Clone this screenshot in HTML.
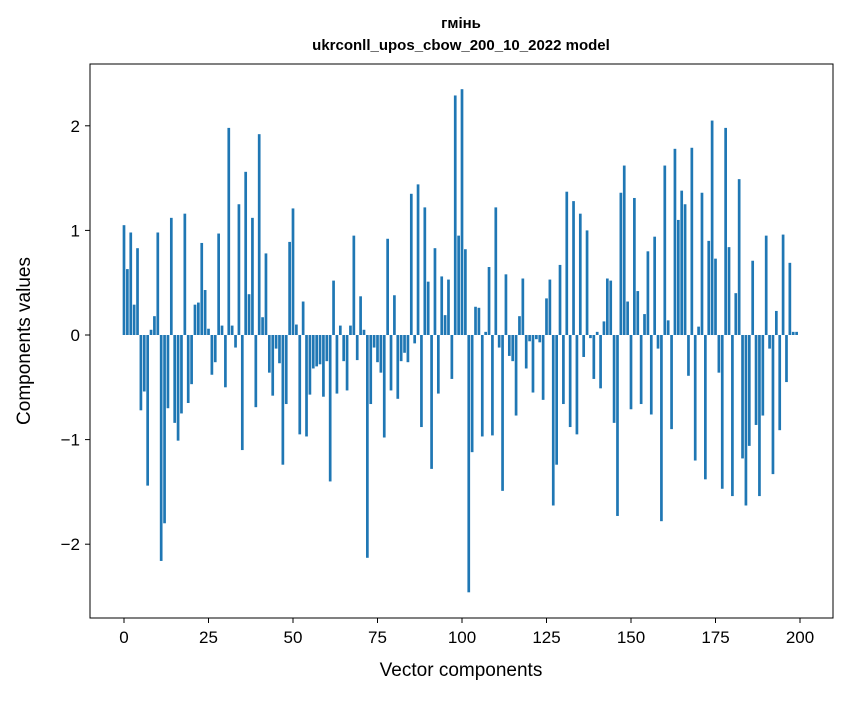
<!DOCTYPE html>
<html><head><meta charset="utf-8"><style>
body{margin:0;background:#fff;}
svg text{font-family:"Liberation Sans","DejaVu Sans",sans-serif;fill:#000;}
</style></head><body>
<svg id="chart" width="847" height="696" xmlns="http://www.w3.org/2000/svg">
<rect width="847" height="696" fill="#fff"/>
<text x="461" y="28" text-anchor="middle" font-size="15" font-weight="bold">гмінь</text>
<text x="461" y="50" text-anchor="middle" font-size="15" font-weight="bold">ukrconll_upos_cbow_200_10_2022 model</text>
<g id="bars"></g>
<rect x="90" y="64" width="743" height="554" fill="none" stroke="#000" stroke-width="1"/>
<g id="xticks"></g>
<g id="yticks"></g>
<text x="461" y="676" text-anchor="middle" font-size="19">Vector components</text>
<text transform="translate(30,341) rotate(-90)" text-anchor="middle" font-size="19">Components values</text>
</svg>
<script>
const values=[1.05,0.63,0.98,0.29,0.83,-0.72,-0.54,-1.44,0.05,0.18,0.98,-2.16,-1.8,-0.7,1.12,-0.84,-1.01,-0.75,1.16,-0.65,
-0.47,0.29,0.31,0.88,0.43,0.06,-0.38,-0.26,0.97,0.09,-0.5,1.98,0.09,-0.12,1.25,-1.1,1.56,0.39,1.12,-0.69,
1.92,0.17,0.78,-0.36,-0.58,-0.13,-0.27,-1.24,-0.66,0.89,1.21,0.1,-0.95,0.32,-0.97,-0.57,-0.32,-0.3,-0.28,-0.59,
-0.25,-1.4,0.52,-0.56,0.09,-0.25,-0.53,0.09,0.95,-0.24,0.37,0.05,-2.13,-0.66,-0.12,-0.26,-0.36,-0.98,0.92,-0.53,
0.38,-0.61,-0.25,-0.17,-0.26,1.35,-0.08,1.44,-0.88,1.22,0.51,-1.28,0.83,-0.56,0.56,0.19,0.53,-0.42,2.29,0.95,
2.35,0.82,-2.46,-1.12,0.27,0.26,-0.97,0.03,0.65,-0.96,1.22,-0.12,-1.49,0.58,-0.2,-0.25,-0.77,0.18,0.54,-0.32,
-0.06,-0.55,-0.04,-0.07,-0.62,0.35,0.53,-1.63,-1.24,0.67,-0.66,1.37,-0.88,1.28,-0.95,1.16,-0.21,1.0,-0.03,-0.42,
0.03,-0.51,0.13,0.54,0.52,-0.84,-1.73,1.36,1.62,0.32,-0.71,1.31,0.42,-0.66,0.2,0.8,-0.76,0.94,-0.13,-1.78,
1.62,0.14,-0.9,1.78,1.1,1.38,1.25,-0.39,1.79,-1.2,0.08,1.36,-1.38,0.9,2.05,0.73,-0.36,-1.47,1.98,0.84,
-1.54,0.4,1.49,-1.18,-1.63,-1.06,0.71,-0.86,-1.54,-0.77,0.95,-0.13,-1.33,0.23,-0.91,0.96,-0.45,0.69,0.03,0.03];
const xTickVals=[0,25,50,75,100,125,150,175,200];
const yTickVals=[-2,-1,0,1,2];
const yTickLabels=["\u22122","\u22121","0","1","2"];
const NS="http://www.w3.org/2000/svg";
const xs=v=>124+v*3.38;
const ys=v=>335-v*104.6;
const bars=document.getElementById('bars');
values.forEach((v,i)=>{
  const r=document.createElementNS(NS,'rect');
  
  
  const y0=ys(0),y1=ys(v);
  r.setAttribute('x',xs(i)-1.35);r.setAttribute('width',2.7);
  r.setAttribute('y',Math.min(y0,y1));r.setAttribute('height',Math.abs(y1-y0));
  r.setAttribute('fill','#1f77b4');
  bars.appendChild(r);
});
const xt=document.getElementById('xticks');
xTickVals.forEach(v=>{
  const l=document.createElementNS(NS,'line');
  
  
  l.setAttribute('x1',xs(v));l.setAttribute('x2',xs(v));l.setAttribute('y1',618);l.setAttribute('y2',623);l.setAttribute('stroke','#000');
  xt.appendChild(l);
  const t=document.createElementNS(NS,'text');
  
  
  t.setAttribute('x',xs(v));t.setAttribute('y',643);t.setAttribute('text-anchor','middle');t.setAttribute('font-size','17');
  t.textContent=v;xt.appendChild(t);
});
const yt=document.getElementById('yticks');
yTickVals.forEach((v,i)=>{
  const l=document.createElementNS(NS,'line');
  
  
  l.setAttribute('x1',85);l.setAttribute('x2',90);l.setAttribute('y1',ys(v));l.setAttribute('y2',ys(v));l.setAttribute('stroke','#000');
  yt.appendChild(l);
  const t=document.createElementNS(NS,'text');
  
  
  t.setAttribute('x',80);t.setAttribute('y',ys(v)+6);t.setAttribute('text-anchor','end');t.setAttribute('font-size','17');
  t.textContent=yTickLabels[i];yt.appendChild(t);
});
</script>
</body></html>
